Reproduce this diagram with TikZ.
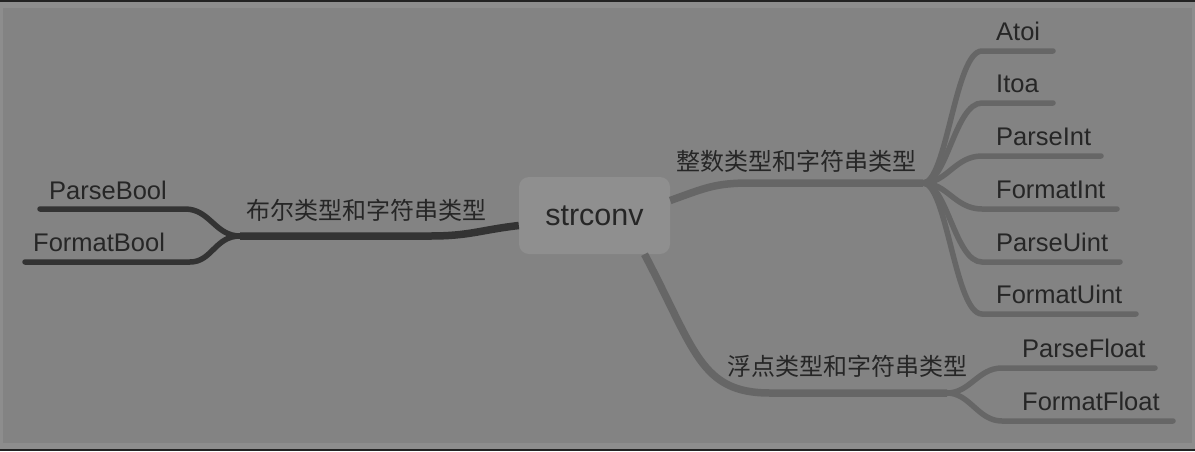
\documentclass[tikz,border=0pt]{standalone}
\usepackage{fontspec}
\setmainfont{Liberation Sans}
\newfontfamily\cjk{Noto Sans CJK SC}
\usetikzlibrary{positioning,calc}

\definecolor{frame}{HTML}{222222}
\definecolor{rim}{HTML}{8D8D8D}
\definecolor{canvas}{HTML}{838383}
\definecolor{hubfill}{HTML}{8F8F8F}
\definecolor{ink}{HTML}{262626}
\definecolor{boolline}{HTML}{333333}
\definecolor{numline}{HTML}{666666}

\begin{document}
\begin{tikzpicture}[x=1pt, y=-1pt,
    hub/.style={rectangle, rounded corners=10pt, fill=hubfill, minimum width=151pt, minimum height=77pt, font=\fontsize{30.5}{30.5}\selectfont, text=ink},
    leaf/.style={font=\fontsize{25.5}{25.5}\selectfont, text=ink, anchor=base west, inner sep=0pt},
    cat/.style={font=\cjk\fontsize{24}{24}\selectfont, text=ink, anchor=west, inner sep=0pt},
    limb/.style={line width=7.5pt, line cap=butt, color=#1},
    twig/.style={line width=5.5pt, line cap=round, color=#1}
]
    \useasboundingbox (0,0) rectangle (1195,451);
    \fill[frame] (0,0) rectangle (1195,451);
    \fill[rim] (0,2) rectangle (1195,449);
    \fill[canvas] (3,8) rectangle (1192,443);

    \node[hub] (root) at (594.5,215.5) {strconv};

    % Junctions
    \coordinate (bj) at (240,236);
    \coordinate (ij) at (923,183);
    \coordinate (fj) at (947,393);

    % Main limbs
    \draw[limb=boolline] ([yshift=-10pt]root.west) .. controls (480,230) and (470,236) .. (430,236) -- (bj);
    \draw[limb=numline] ([yshift=15pt]root.east) .. controls (705,188) and (715,183) .. (750,183) -- (ij);
    \draw[limb=numline] ([xshift=50pt]root.south) .. controls (695,350) and (700,393) .. (770,393) -- (fj);

    \node[cat] (boolcat) at (246,210) {布尔类型和字符串类型};
    \node[cat] (intcat) at (676,161) {整数类型和字符串类型};
    \node[cat] (floatcat) at (727,366) {浮点类型和字符串类型};

    % Bool leaves
    \coordinate (pb-s) at (185,209); \coordinate (pb-e) at (40,209);
    \coordinate (fb-s) at (190,262); \coordinate (fb-e) at (25,262);
    \draw[twig=boolline] (bj) .. controls (215,236) and (210,209) .. (pb-s) -- (pb-e);
    \draw[twig=boolline] (bj) .. controls (215,236) and (212,262) .. (fb-s) -- (fb-e);
    \node[leaf] (pb) at (49,199) {ParseBool};
    \node[leaf] (fb) at (33,251) {FormatBool};

    % Int leaves
    \foreach \name/\txt/\y/\xend in {atoi/Atoi/51/1053, itoa/Itoa/103/1053, pi/ParseInt/156/1101, fi/FormatInt/209/1117, pu/ParseUint/262/1120, fu/FormatUint/314/1136}{
        \coordinate (\name-s) at (982,\y);
        \coordinate (\name-e) at (\xend,\y);
        \draw[twig=numline] (ij) .. controls (947,183) and (955,\y) .. (\name-s) -- (\name-e);
        \node[leaf] (\name) at (996,\y-11) {\txt};
    }

    % Float leaves
    \foreach \name/\txt/\y/\xend in {pf/ParseFloat/368/1155, ff/FormatFloat/421/1173}{
        \coordinate (\name-s) at (1002,\y);
        \coordinate (\name-e) at (\xend,\y);
        \draw[twig=numline] (fj) .. controls (970,393) and (978,\y) .. (\name-s) -- (\name-e);
        \node[leaf] (\name) at (1022,\y-11) {\txt};
    }
\end{tikzpicture}
\end{document}
